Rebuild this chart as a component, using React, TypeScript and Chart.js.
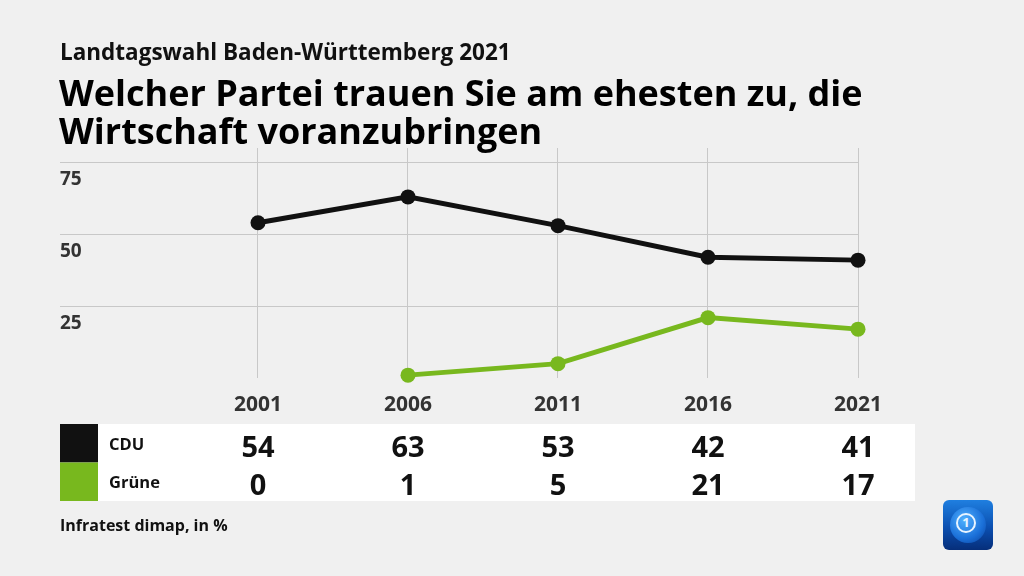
import React, { useEffect, useRef } from "react";
import { Chart, registerables } from "chart.js";

Chart.register(...registerables);

const years = [2001, 2006, 2011, 2016, 2021];
const cduValues = [54, 63, 53, 42, 41];
const grueneValues = [0, 1, 5, 21, 17];
const seriesNames = ["CDU", "Grüne"];
const seriesColors = ["#111111", "#78b81e"];
const yTickValues = [25, 50, 75];

const subtitle = "Landtagswahl Baden-Württemberg 2021";
const titleLines = ["Welcher Partei trauen Sie am ehesten zu, die", "Wirtschaft voranzubringen"];
const source = "Infratest dimap, in %";

const FONT = "'Open Sans', sans-serif";

const tablePlugin = {
  id: "valueTable",
  afterDraw(chart: any) {
    const ctx = chart.ctx;
    const xs = chart.scales.x;
    const left = chart.chartArea.left;
    const right = xs.getPixelForValue(years[years.length - 1]) + 57;
    const top = 424;
    const rowH = 38.5;
    const rows = [cduValues, grueneValues];
    ctx.save();
    ctx.fillStyle = "#ffffff";
    ctx.fillRect(left, top, right - left, rowH * rows.length);
    rows.forEach((vals, r) => {
      const y0 = top + r * rowH;
      ctx.fillStyle = seriesColors[r];
      ctx.fillRect(left, y0, 38, rowH);
      ctx.fillStyle = "#111111";
      ctx.font = `bold 16.5px ${FONT}`;
      ctx.textAlign = "left";
      ctx.textBaseline = "middle";
      ctx.fillText(seriesNames[r], left + 49, y0 + rowH / 2 + 2);
      ctx.font = `bold 29px ${FONT}`;
      ctx.textAlign = "center";
      vals.forEach((v, i) => {
        ctx.fillText(String(v), xs.getPixelForValue(years[i]), y0 + rowH / 2 + 5);
      });
    });
    ctx.restore();
  },
};

function App() {
  const ref = useRef<HTMLCanvasElement | null>(null);
  useEffect(() => {
    if (!ref.current) return;
    const chart = new Chart(ref.current, {
      type: "line",
      data: {
        datasets: [
          {
            label: seriesNames[0],
            data: years.map((x, i) => ({ x, y: cduValues[i] })),
            borderColor: seriesColors[0],
            backgroundColor: seriesColors[0],
            borderWidth: 5,
            pointRadius: 7.5,
            pointBorderWidth: 0,
            tension: 0,
            clip: false,
          },
          {
            label: seriesNames[1],
            // a value of 0 is not drawn as a point in the reference
            data: years.map((x, i) => ({ x, y: grueneValues[i] === 0 ? null : grueneValues[i] })),
            borderColor: seriesColors[1],
            backgroundColor: seriesColors[1],
            borderWidth: 5,
            pointRadius: 7.5,
            pointBorderWidth: 0,
            tension: 0,
            spanGaps: false,
            clip: false,
          },
        ],
      },
      options: {
        animation: false,
        responsive: false,
        maintainAspectRatio: false,
        layout: { padding: { left: 60, right: 166, top: 148, bottom: 158 } },
        plugins: { legend: { display: false }, tooltip: { enabled: false } },
        scales: {
          x: {
            type: "linear",
            min: 1994.4,
            max: 2021,
            afterBuildTicks: (s: any) => {
              s.ticks = years.map((v) => ({ value: v }));
            },
            afterFit: (s: any) => {
              s.height = 40;
            },
            grid: { color: "#c8c8c8", lineWidth: 1, drawTicks: false },
            border: { display: false },
            ticks: {
              padding: 14,
              autoSkip: false,
              maxRotation: 0,
              color: "#333333",
              font: { family: FONT, size: 21, weight: "bold" },
              callback: (v: any) => String(v),
            },
          },
          y: {
            type: "linear",
            min: 0,
            max: 80,
            afterBuildTicks: (s: any) => {
              s.ticks = yTickValues.map((v) => ({ value: v }));
            },
            afterFit: (s: any) => {
              s.width = 0;
            },
            grid: { color: "#c8c8c8", lineWidth: 1, drawTicks: false },
            border: { display: false },
            ticks: {
              mirror: true,
              padding: 0,
              labelOffset: 17,
              color: "#333333",
              font: { family: FONT, size: 19, weight: "bold" },
            },
          },
        },
      },
      plugins: [tablePlugin],
    } as any);
    return () => chart.destroy();
  }, []);

  return (
    <div
      style={{
        position: "fixed",
        left: 0,
        top: 0,
        width: 1024,
        height: 576,
        background: "#f0f0f0",
        overflow: "hidden",
        fontFamily: FONT,
      }}
    >
      <canvas ref={ref} width={1024} height={576} style={{ position: "absolute", left: 0, top: 0 }} />
      <div
        style={{
          position: "absolute",
          left: 60,
          top: 40.5,
          fontSize: 22.5,
          lineHeight: "22.5px",
          fontWeight: 700,
          color: "#111",
          whiteSpace: "nowrap",
        }}
      >
        {subtitle}
      </div>
      <div
        style={{
          position: "absolute",
          left: 59,
          top: 74.3,
          fontSize: 36,
          lineHeight: "38px",
          fontWeight: 700,
          color: "#000",
          whiteSpace: "nowrap",
        }}
      >
        {titleLines.map((l, i) => (
          <div key={i}>{l}</div>
        ))}
      </div>
      <div
        style={{
          position: "absolute",
          left: 60,
          top: 517,
          fontSize: 16,
          lineHeight: "16px",
          fontWeight: 700,
          color: "#111",
          whiteSpace: "nowrap",
        }}
      >
        {source}
      </div>
      <div
        style={{
          position: "absolute",
          left: 943,
          top: 500,
          width: 50,
          height: 50,
          borderRadius: 6,
          background: "linear-gradient(180deg, #1f7fe0 0%, #0b4fb0 55%, #062e7a 100%)",
        }}
      >
        <div
          style={{
            position: "absolute",
            left: 7,
            top: 7,
            width: 36,
            height: 36,
            borderRadius: "50%",
            background: "radial-gradient(circle at 40% 35%, #4fb0ff 0%, #1a6fd8 60%, #0a3f98 100%)",
          }}
        />
        <div
          style={{
            position: "absolute",
            left: 13,
            top: 13,
            width: 20,
            height: 20,
            borderRadius: "50%",
            border: "2.5px solid #e8f4ff",
            boxSizing: "border-box",
            color: "#e8f4ff",
            fontSize: 13,
            fontWeight: 700,
            lineHeight: "15px",
            textAlign: "center",
          }}
        >
          1
        </div>
      </div>
    </div>
  );
}

export default App;
